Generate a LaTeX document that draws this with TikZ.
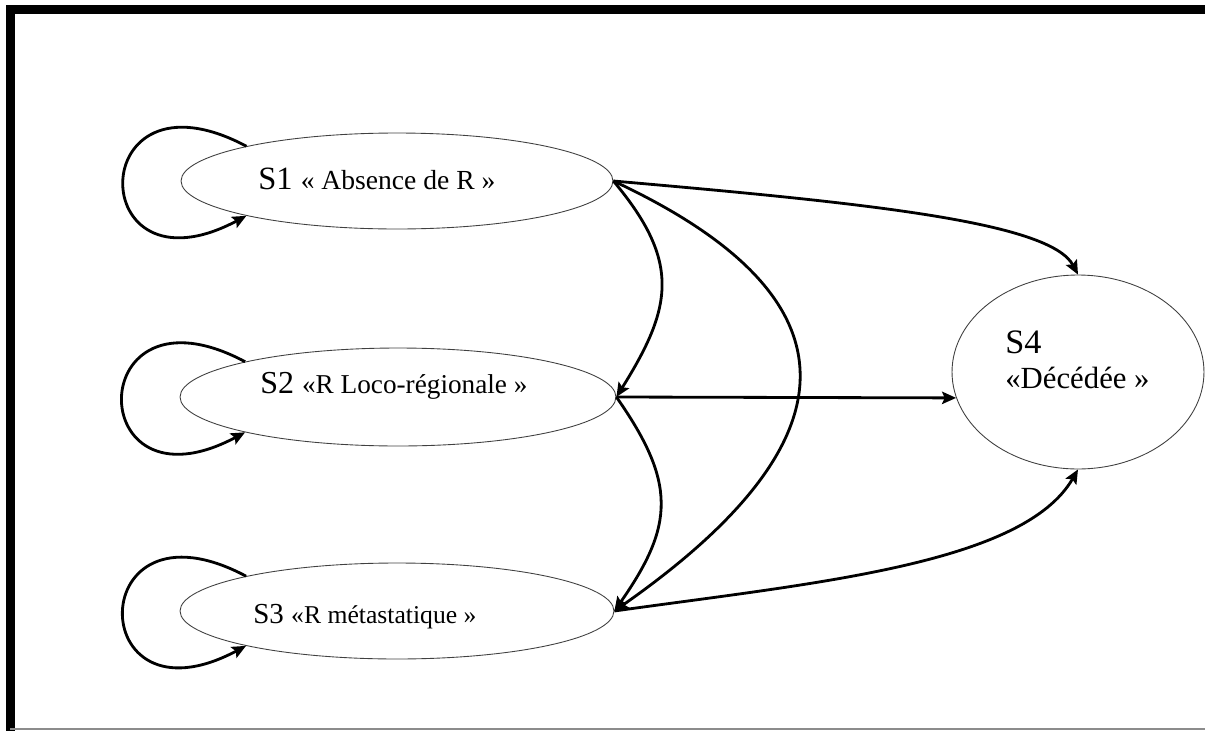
\documentclass[tikz,border=0pt]{standalone}
\usepackage{fontspec}
\setmainfont{Liberation Serif}
\usetikzlibrary{arrows.meta,shapes.geometric}
\newcommand{\fsz}[1]{\fontsize{#1pt}{20pt}\selectfont}

\begin{document}
\begin{tikzpicture}[x=0.02cm, y=0.02cm,
	etat/.style={draw=black!75, line width=0.5pt, ellipse, inner sep=0pt},
	texte/.style={inner sep=0pt, anchor=base west},
	trans/.style={line width=1.6pt, -{Stealth[length=8pt, width=7pt, inset=1.5pt]}}]
			%%%%% START %%%%%
			
			\useasboundingbox (0, 0) rectangle (1205, -731);
			\draw[line width=4.6pt, line cap=rect] (10.5, -735) -- (10.5, -9.5) -- (1210, -9.5);
			\draw[line width=1.2pt, color=black!45] (10, -729) -- (1210, -729);
			
			\node[etat, minimum width=8.64cm, minimum height=1.92cm] (s1) at (397, -181) {};
			\node[etat, minimum width=8.72cm, minimum height=1.96cm] (s2) at (398, -397) {};
			\node[etat, minimum width=8.68cm, minimum height=1.92cm] (s3) at (397, -611) {};
			\node[etat, minimum width=5.04cm, minimum height=3.88cm] (s4) at (1078, -372) {};
			
			\node[texte] (t1) at (258, -189) {\fsz{18.5}S1 {\fsz{15.7}« Absence de R »}};
			\node[texte] (t2) at (260, -393) {\fsz{18.2}S2 {\fsz{15.5}«R Loco-régionale »}};
			\node[texte] (t3) at (253, -623) {\fsz{16.5}S3 {\fsz{14.6}«R métastatique »}};
			\node[inner sep=0pt, anchor=north west, align=left, font=\fsz{17.5}] (t4) at (1005, -330)
				{\fsz{19.5}S4\\«Décédée »};
			
			% boucles
			\draw[trans] (s1.167) .. controls +(152:185) and +(208:185) .. (s1.193);
			\draw[trans] (s2.167) .. controls +(152:185) and +(208:185) .. (s2.193);
			\draw[trans] (s3.167) .. controls +(152:185) and +(208:185) .. (s3.193);
			
			% transitions
			\draw[trans] (s1.east) .. controls +(-5:250) and +(118:60) .. (s4.north);
			\draw[trans] (s1.east) to[out=-50, in=58, looseness=1.25] (s2.east);
			\draw[trans] (s1.east) to[out=-25, in=35, looseness=1.7] (s3.east);
			\draw[trans] (s2.east) -- (s4.192);
			\draw[trans] (s2.east) to[out=-55, in=55, looseness=1.25] (s3.east);
			\draw[trans] (s3.east) .. controls +(8:200) and +(-120:110) .. (s4.south);
			
			%%%%% END %%%%%
\end{tikzpicture}
\end{document}
